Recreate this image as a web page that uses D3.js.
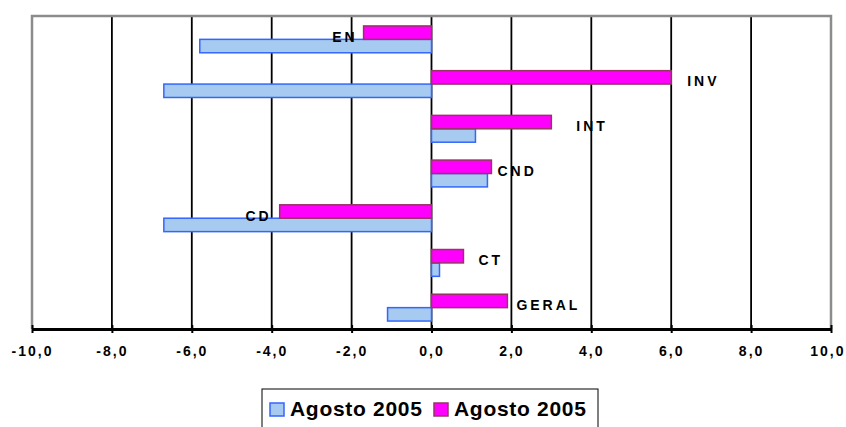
<!DOCTYPE html>
<html>
<head>
<meta charset="utf-8">
<script src="https://cdn.jsdelivr.net/npm/d3@7"></script>
<style>
  body { margin: 0; background: #fff; }
  text { font-family: "Liberation Sans", Arial, sans-serif; font-weight: bold; fill: #000; }
</style>
</head>
<body>
<div id="chart"></div>
<script>
// data
var categories = ["EN", "INV", "INT", "CND", "CD", "CT", "GERAL"];
var seriesNames = ["Agosto 2005", "Agosto 2005"];
var blueValues = [-5.8, -6.7, 1.1, 1.4, -6.7, 0.2, -1.1];
var magentaValues = [-1.7, 6.0, 3.0, 1.5, -3.8, 0.8, 1.9];
var xTicks = [-10, -8, -6, -4, -2, 0, 2, 4, 6, 8, 10];

var ctx = {
  w: 846,
  h: 427,
  left: 32,
  right: 831,
  top: 16,
  bottom: 329,
};

// manual label nudges (excel labels were dragged by hand)
var labelGap = [6, 16, 25, 6, 8, 15, 9];

var svg = d3.select("#chart").append("svg")
  .attr("width", ctx.w)
  .attr("height", ctx.h);

var x = d3.scaleLinear().domain([-10, 10]).range([ctx.left, ctx.right]);
var y = d3.scaleBand().domain(categories).range([17, 330])
  .paddingInner(0.4).paddingOuter(0.2);
var ySub = d3.scaleBand().domain(["m", "b"]).range([0, y.bandwidth()]);

// grid lines
svg.selectAll(".grid")
  .data(xTicks.slice(1, -1))
  .enter().append("line")
  .attr("x1", function(d) { return x(d); })
  .attr("x2", function(d) { return x(d); })
  .attr("y1", ctx.top)
  .attr("y2", ctx.bottom)
  .attr("stroke", "#000")
  .attr("stroke-width", 1.8);

// plot frame (gray)
svg.append("path")
  .attr("d", "M" + ctx.left + "," + ctx.bottom + "V" + ctx.top + "H" + ctx.right + "V" + ctx.bottom)
  .attr("fill", "none")
  .attr("stroke", "#8c8c8c")
  .attr("stroke-width", 2.5);

var rows = categories.map(function(c, i) {
  return { cat: c, blue: blueValues[i], mag: magentaValues[i], gap: labelGap[i] };
});

// blue bars
svg.selectAll(".blue")
  .data(rows)
  .enter().append("rect")
  .attr("x", function(d) { return x(Math.min(0, d.blue)); })
  .attr("width", function(d) { return Math.abs(x(d.blue) - x(0)); })
  .attr("y", function(d) { return y(d.cat) + ySub("b"); })
  .attr("height", ySub.bandwidth())
  .attr("fill", "#a6caf0")
  .attr("stroke", "#3366ff")
  .attr("stroke-width", 1.5);

// magenta bars
svg.selectAll(".mag")
  .data(rows)
  .enter().append("rect")
  .attr("x", function(d) { return x(Math.min(0, d.mag)); })
  .attr("width", function(d) { return Math.abs(x(d.mag) - x(0)); })
  .attr("y", function(d) { return y(d.cat) + ySub("m"); })
  .attr("height", ySub.bandwidth())
  .attr("fill", "#ff00ff")
  .attr("stroke", "#993366")
  .attr("stroke-width", 1.5);

// category labels at the end of the magenta bar
svg.selectAll(".lab")
  .data(rows)
  .enter().append("text")
  .attr("x", function(d) { return d.mag < 0 ? x(d.mag) - d.gap : x(d.mag) + d.gap; })
  .attr("y", function(d) { return y(d.cat) + ySub("m") + ySub.bandwidth() / 2 + 4; })
  .attr("text-anchor", function(d) { return d.mag < 0 ? "end" : "start"; })
  .attr("dominant-baseline", "central")
  .style("font-size", "14px")
  .style("font-weight", "700")
  .style("letter-spacing", "3px")
  .text(function(d) { return d.cat; });

// x axis
var xAxis = d3.axisBottom(x)
  .tickValues(xTicks)
  .tickSizeInner(4)
  .tickSizeOuter(0)
  .tickFormat(function(d) { return d3.format(".1f")(d).replace(".", ",").replace("\u2212", "-"); });

var gx = svg.append("g")
  .attr("transform", "translate(0," + ctx.bottom + ")")
  .call(xAxis);
gx.select(".domain").attr("stroke", "#000").attr("stroke-width", 3);
gx.selectAll(".tick line").attr("y1", -4).attr("stroke-width", 2);
gx.selectAll(".tick text")
  .attr("y", 17)
  .style("font-size", "14px")
  .style("letter-spacing", "2px")
  .style("font-family", "'Liberation Sans', Arial, sans-serif")
  .style("font-weight", "700");
// last label is pushed inside the page, as in the original
gx.selectAll(".tick text")
  .filter(function(d) { return d === xTicks[xTicks.length - 1]; })
  .attr("text-anchor", "end")
  .attr("x", 14);

// legend
var legend = svg.append("g");
legend.append("rect")
  .attr("x", 262).attr("y", 389)
  .attr("width", 336).attr("height", 50)
  .attr("fill", "#fff")
  .attr("stroke", "#000")
  .attr("stroke-width", 1);

var legendItems = [
  { name: seriesNames[0], fill: "#a6caf0", stroke: "#3366ff", sx: 270, tx: 290 },
  { name: seriesNames[1], fill: "#ff00ff", stroke: "#993366", sx: 434, tx: 454 }
];
legendItems.forEach(function(it) {
  legend.append("rect")
    .attr("x", it.sx).attr("y", 403)
    .attr("width", 14).attr("height", 13)
    .attr("fill", it.fill)
    .attr("stroke", it.stroke)
    .attr("stroke-width", 1.5);
  legend.append("text")
    .attr("x", it.tx).attr("y", 416)
    .style("font-size", "21px")
    .style("letter-spacing", "0.7px")
    .text(it.name);
});
</script>
</body>
</html>
